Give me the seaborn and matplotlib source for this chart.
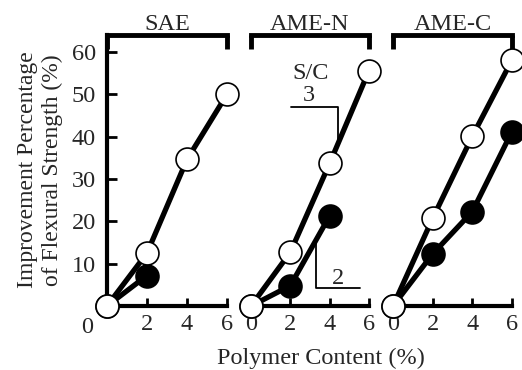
import pandas as pd
import matplotlib.pyplot as plt
import seaborn as sns

sns.set_theme(style='white')
plt.rcParams['font.family'] = ['Liberation Serif', 'DejaVu Serif']

# Data
panels = ['SAE', 'AME-N', 'AME-C']
x_ticks = [0, 2, 4, 6]
y_ticks = [10, 20, 30, 40, 50, 60]

sae_x_open = [0, 2, 4, 6]
sae_y_open = [0, 12.5, 34.6, 50.0]
sae_x_filled = [0, 2]
sae_y_filled = [0, 7.2]

amen_x_open = [0, 2, 4, 6]
amen_y_open = [0, 12.7, 33.7, 55.6]
amen_x_filled = [0, 2, 4]
amen_y_filled = [0, 4.8, 21.3]

amec_x_open = [0, 2, 4, 6]
amec_y_open = [0, 20.7, 40.1, 58.1]
amec_x_filled = [0, 2, 4, 6]
amec_y_filled = [0, 12.3, 22.3, 41.2]

# S/C slope markers drawn in the AME-N panel
slope3_x = [2.05, 4.4, 4.4]
slope3_y = [47.0, 47.0, 38.5]
slope2_x = [3.33, 3.33, 5.55]
slope2_y = [15.5, 4.3, 4.3]

rows = []
series = {
    'SAE': [(sae_x_filled, sae_y_filled, 'filled'), (sae_x_open, sae_y_open, 'open')],
    'AME-N': [(amen_x_filled, amen_y_filled, 'filled'), (amen_x_open, amen_y_open, 'open')],
    'AME-C': [(amec_x_filled, amec_y_filled, 'filled'), (amec_x_open, amec_y_open, 'open')],
}
for p in panels:
    for xs, ys, kind in series[p]:
        for x, y in zip(xs, ys):
            rows.append({'panel': p, 'kind': kind, 'x': x, 'y': y})
df = pd.DataFrame(rows)

W, H = 522, 370
fs = 17.5
fig = plt.figure(figsize=(W / 100, H / 100), dpi=100)
lefts = [107, 251, 393]
widths = [120, 118, 119]
bottom, top = 306, 35

for i, p in enumerate(panels):
    ax = fig.add_axes([lefts[i] / W, (H - bottom) / H, widths[i] / W, (bottom - top) / H])
    sub = df[df['panel'] == p]
    for kind, fc, z in [('filled', 'black', 3), ('open', 'white', 4)]:
        d = sub[sub['kind'] == kind]
        sns.lineplot(data=d, x='x', y='y', ax=ax, color='black', linewidth=3.8,
                     marker='o', markersize=16.5, markerfacecolor=fc,
                     markeredgecolor='black', markeredgewidth=1.2,
                     clip_on=False, zorder=z)
    ax.set_xlim(0, 6)
    ax.set_ylim(0, 64)
    ax.set_xlabel('')
    ax.set_ylabel('')
    ax.set_xticks(x_ticks)
    if i == 0:
        ax.set_xticklabels(['', '2', '4', '6'])
        ax.set_yticks(y_ticks)
        ax.text(-1.0, -5.0, '0', ha='center', va='center', fontsize=fs)
    else:
        ax.set_yticks([])
    ax.tick_params(axis='x', direction='in', length=6, width=2, pad=5.5,
                   labelsize=fs, color='black', bottom=True)
    ax.tick_params(axis='y', direction='in', length=7, width=2, pad=8,
                   labelsize=fs, color='black', left=(i == 0))
    for side in ['top', 'right']:
        ax.spines[side].set_visible(False)
    ax.spines['left'].set_visible(i == 0)
    for side in ['left', 'bottom']:
        ax.spines[side].set_linewidth(3)
        ax.spines[side].set_color('black')
    # bracket on top with downward ends
    sec = ax.secondary_xaxis('top')
    sec.set_xticks([0, 6])
    sec.set_xticklabels([])
    sec.tick_params(direction='in', length=10, width=3.5, color='black')
    sec.spines['top'].set_linewidth(3.5)
    sec.spines['top'].set_color('black')
    ax.set_title(p, fontsize=fs, pad=-1)

    if p == 'AME-N':
        ax.plot(slope3_x, slope3_y, color='black', linewidth=1.3, zorder=2)
        ax.plot(slope2_x, slope2_y, color='black', linewidth=1.3, zorder=2)
        ax.text(3.05, 55.0, 'S/C', ha='center', va='center', fontsize=fs)
        ax.text(2.95, 49.8, '3', ha='center', va='center', fontsize=fs)
        ax.text(4.4, 6.6, '2', ha='center', va='center', fontsize=fs)

fig.text(40 / W, (H - 170) / H, 'Improvement Percentage\nof Flexural Strength (%)',
         rotation=90, ha='center', va='center', fontsize=17, multialignment='center')
fig.text(321 / W, (H - 358) / H, 'Polymer Content (%)', ha='center', va='center',
         fontsize=fs)

fig.savefig('out.png', dpi=100)
